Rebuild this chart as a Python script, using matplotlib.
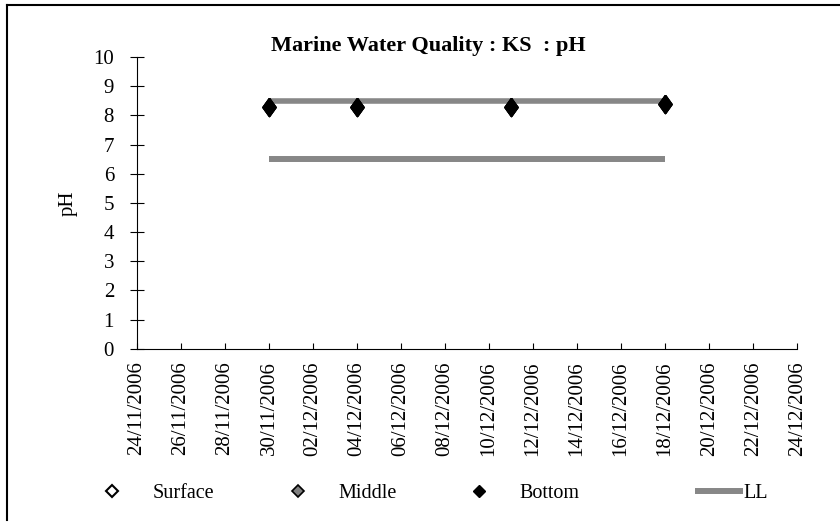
import pandas as pd
import matplotlib
matplotlib.use("Agg")
import matplotlib.pyplot as plt
import matplotlib.dates as mdates
from matplotlib.lines import Line2D

plt.rcParams['font.family'] = ['Liberation Serif', 'DejaVu Serif']

# Données
dates = pd.to_datetime(['30/11/2006', '04/12/2006', '11/12/2006', '18/12/2006'], dayfirst=True)
surface = [8.3, 8.3, 8.3, 8.4]
middle = [8.3, 8.3, 8.3, 8.4]
bottom = [8.3, 8.3, 8.3, 8.4]
ul = [8.5, 8.5]
ll = [6.5, 6.5]
limit_dates = pd.to_datetime(['30/11/2006', '18/12/2006'], dayfirst=True)
x_start = pd.to_datetime('24/11/2006', dayfirst=True)
x_end = pd.to_datetime('24/12/2006', dayfirst=True)
x_ticks = pd.date_range(x_start, x_end, freq='2D')

fig = plt.figure(figsize=(8.4, 5.23), dpi=100)
ax = fig.add_axes([0.163, 0.333, 0.786, 0.558])

grey = '#878787'
# losange un peu plus haut que large, comme dans Excel
tall_diamond = [(0, 1), (0.72, 0), (0, -1), (-0.72, 0), (0, 1)]

ax.plot(limit_dates, ul, color=grey, linewidth=4, solid_capstyle='butt')
ax.plot(limit_dates, ll, color=grey, linewidth=4.3, solid_capstyle='butt')
ax.plot(dates, surface, linestyle='none', marker=tall_diamond, markersize=13,
        markerfacecolor='white', markeredgecolor='black', markeredgewidth=1.2)
ax.plot(dates, middle, linestyle='none', marker=tall_diamond, markersize=13,
        markerfacecolor='#808080', markeredgecolor='black', markeredgewidth=1.2)
ax.plot(dates, bottom, linestyle='none', marker=tall_diamond, markersize=13, color='black')

ax.set_xlim(x_start, x_end)
ax.set_ylim(0, 10)
ax.set_yticks(range(0, 11))
ax.set_xticks(x_ticks)
ax.xaxis.set_major_formatter(mdates.DateFormatter('%d/%m/%Y'))
ax.tick_params(axis='x', direction='in', length=4.5, labelrotation=90, labelsize=15, pad=9)
ax.tick_params(axis='y', direction='inout', length=10, labelsize=15, pad=11.5)
for s in ['top', 'right']:
    ax.spines[s].set_visible(False)
ax.set_ylabel('pH', fontsize=15, labelpad=11)

fig.text(0.51, 0.913, 'Marine Water Quality : KS  : pH', ha='center', va='center',
         fontsize=16, fontweight='bold')

# Légende : une entrée par légende pour reproduire l'espacement d'Excel
entries = [
    (Line2D([], [], linestyle='none', marker='D', markersize=6, markerfacecolor='white',
            markeredgecolor='black', markeredgewidth=1.5), 'Surface', 98, 1.4, 1.3),
    (Line2D([], [], linestyle='none', marker='D', markersize=6, markerfacecolor='#808080',
            markeredgecolor='black', markeredgewidth=1.2), 'Middle', 284, 1.4, 1.3),
    (Line2D([], [], linestyle='none', marker='D', markersize=6, color='black'),
     'Bottom', 465, 1.4, 1.3),
    (Line2D([], [], color=grey, linewidth=4.3, solid_capstyle='butt'), 'LL', 695, 2.4, 0.0),
]
for handle, label, x_px, hlen, hpad in entries:
    leg = fig.legend([handle], [label], loc='center left', bbox_to_anchor=(x_px / 840, 0.057),
                     frameon=False, fontsize=14.5, borderpad=0, borderaxespad=0,
                     handlelength=hlen, handletextpad=hpad)

# Cadre
fig.add_artist(Line2D([0.0083, 0.0083], [0.005, 0.990], color='black', linewidth=1.5))
fig.add_artist(Line2D([0.0083, 1.0], [0.990, 0.990], color='black', linewidth=1.5))

fig.savefig('out.png', dpi=100)
